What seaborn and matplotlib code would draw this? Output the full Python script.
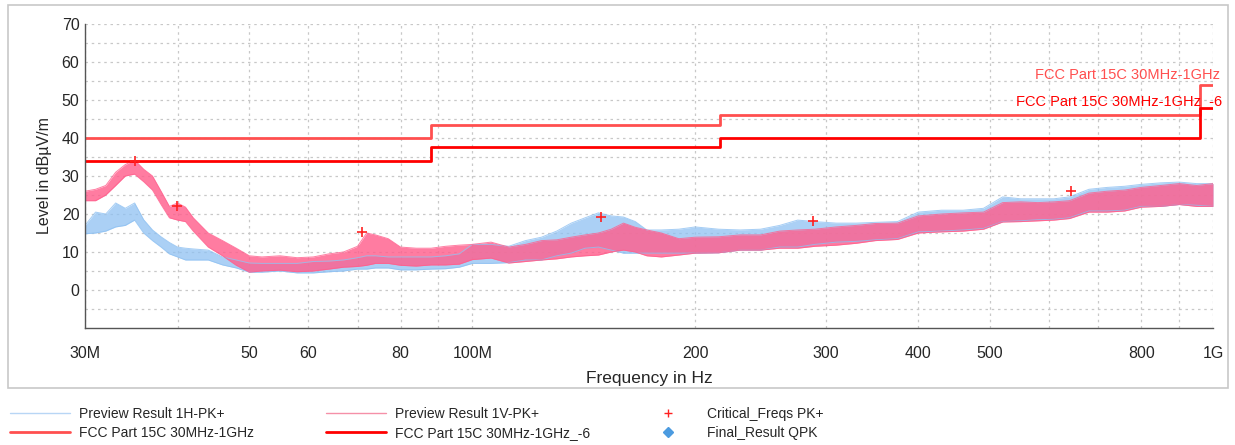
import numpy as np
import pandas as pd
import matplotlib
matplotlib.use("Agg")
import matplotlib.pyplot as plt
import seaborn as sns
from matplotlib.ticker import FixedLocator, NullFormatter
from matplotlib.lines import Line2D
from matplotlib.patches import Rectangle
import matplotlib.transforms as mtransforms

# ---------------- data (frequencies in MHz, levels in dBuV/m) ----------------
freq = [30, 31, 32, 33, 34, 35, 36, 37, 38, 39, 40, 41, 42, 44, 46, 48, 50, 52, 55, 58,
        61, 64, 67, 70, 72, 74, 77, 80, 84, 88, 92, 96, 100, 106, 112, 118, 124, 130, 136,
        142, 148, 154, 160, 166, 172, 180, 190, 200, 215, 230, 245, 260, 275, 290, 310,
        330, 350, 375, 400, 430, 460, 490, 520, 550, 580, 610, 640, 680, 720, 760, 800,
        850, 900, 950, 1000]

v_lo = [23.5, 23.5, 25, 27.5, 30, 30.5, 28.5, 26.3, 22.5, 19, 18.4, 18, 15.5, 11.3, 9, 6.5,
        4.7, 5, 5.2, 4.8, 5, 5.5, 6, 6.2, 6.5, 7, 7, 6.5, 6.3, 6.6, 6.6, 6.8, 8, 8.4, 7.1,
        7.5, 7.9, 8.2, 8.7, 9, 9.2, 10, 10.5, 10, 9, 8.7, 9.2, 9.7, 9.8, 10.5, 10.5, 11, 11,
        11.5, 11.8, 12.3, 13, 13.3, 15, 15.3, 15.5, 16, 17.9, 18, 18.2, 18.4, 18.8, 20.5,
        20.5, 20.8, 21.8, 22, 22.5, 22, 22]
v_hi = [26, 26.5, 27.5, 31, 33, 34.2, 31.8, 30, 26, 22, 22.9, 21.8, 19, 15, 13, 11, 9,
        8.7, 9, 8.5, 8.7, 9.5, 10, 11.5, 15, 14.5, 13.5, 11.3, 11, 11, 11.5, 11.8, 12,
        12.6, 11.3, 12, 13, 13.2, 13.9, 14.5, 15, 16, 17.6, 16.5, 15.8, 15, 13.5, 13.9, 14,
        14.5, 14.5, 15.5, 15.8, 16, 16.6, 17, 17.5, 17.6, 19.5, 20, 20.3, 20.5, 23, 23.2,
        23, 23.2, 23.5, 25.5, 26, 26.3, 27, 27.5, 28, 27.5, 28]

h_lo = [14.8, 15, 15.5, 16.6, 17, 18.4, 15, 13, 11.3, 9.5, 8.7, 7.9, 7.9, 7.9, 6.6, 5.8,
        4.7, 4.7, 5, 4.5, 4.5, 4.8, 5, 5.5, 5.5, 5.8, 5.8, 5.3, 5.3, 5.5, 5.6, 6, 7, 7,
        7.2, 7.9, 7.9, 9, 9.7, 11, 11.3, 10.5, 9.7, 9.7, 9.7, 9.7, 9.7, 9.7, 9.8, 10.5,
        10.5, 11.3, 11.3, 12, 12.6, 12.8, 13.2, 13.5, 15.3, 15.5, 15.8, 16.2, 18, 18.2,
        18.5, 18.6, 19, 20.8, 20.8, 21, 22, 22, 22.5, 22.3, 22]
h_hi = [17, 20.5, 20, 22.9, 21.5, 22.9, 18.5, 15.8, 14, 12.5, 11.3, 11, 10.8, 10.5, 8.7,
        7.9, 7.1, 7, 7, 7, 7.5, 7.6, 7.9, 8.5, 9, 9, 8.7, 8.7, 8.7, 8.7, 9, 9.5, 12, 12,
        11.5, 13, 13.9, 15.5, 17.6, 19, 20.3, 19.5, 19.2, 18, 15.8, 15.8, 16, 16.6, 16,
        15.8, 16, 17, 18.4, 18, 17.6, 17.6, 17.8, 18, 20.5, 21, 21, 21.5, 24.5, 24, 24, 24,
        24.5, 26.5, 27, 27.3, 27.8, 28.2, 28.4, 28, 28]

limit_edges = [30, 88, 216, 960, 1000]
limit_levels = [40, 43.5, 46, 54, 54]
limit6_levels = [34, 37.5, 40, 48, 48]

crit_freq = [35.0, 39.9, 71.0, 149, 288, 643]
crit_level = [34.0, 22.2, 15.2, 19.1, 18.2, 26.0]

x_major = [30, 50, 60, 80, 100, 200, 300, 400, 500, 800, 1000]
x_major_labels = ["30M", "50", "60", "80", "100M", "200", "300", "400", "500", "800", "1G"]
x_minor = [40, 70, 90, 600, 700, 900]
y_labels = [0, 10, 20, 30, 40, 50, 60, 70]

# ---------------- style ----------------
sns.set_style("white")
plt.rcParams["font.family"] = ["Liberation Sans", "DejaVu Sans"]

C_H = "#8fc1f2"
C_V = "#ff5f8d"
C_LIM = "#ff4f4f"
C_LIM6 = "#ff0000"

fig = plt.figure(figsize=(12.35, 4.45), dpi=100)
ax = fig.add_axes([85 / 1235, 1 - 328 / 445, 1128 / 1235, 304 / 445])


def draw_trace(lo, hi, color, fill_alpha):
    # envelope band of the noisy preview trace
    ax.fill_between(freq, lo, hi, color=color, alpha=fill_alpha, lw=0)
    ax.plot(freq, hi, color=color, lw=0.7, alpha=0.8)
    ax.plot(freq, lo, color=color, lw=0.7, alpha=0.8)


draw_trace(h_lo, h_hi, C_H, 0.75)
draw_trace(v_lo, v_hi, C_V, 0.82)

# limit lines
lim_df = pd.DataFrame({"f": limit_edges, "lim": limit_levels, "lim6": limit6_levels})
ax.step(lim_df["f"], lim_df["lim"], where="post", color=C_LIM, lw=2)
ax.step(lim_df["f"], lim_df["lim6"], where="post", color=C_LIM6, lw=2)

# critical freqs
crit_df = pd.DataFrame({"f": crit_freq, "lvl": crit_level})
sns.scatterplot(data=crit_df, x="f", y="lvl", marker="+", color="#ff2020", s=45,
                linewidth=1.2, ax=ax, zorder=5, legend=False)

ax.set_xscale("log")
ax.set_xlim(30, 1000)
ax.set_ylim(-10, 70)

ax.xaxis.set_major_locator(FixedLocator(x_major))
ax.xaxis.set_minor_locator(FixedLocator(x_minor))
ax.set_xticklabels(x_major_labels)
ax.xaxis.set_minor_formatter(NullFormatter())
ax.yaxis.set_major_locator(FixedLocator(y_labels))
ax.yaxis.set_minor_locator(FixedLocator([-5, 5, 15, 25, 35, 45, 55, 65]))

ax.tick_params(axis="x", which="both", direction="out", length=5, width=1,
               color="#555555", labelsize=11.5, pad=8)
ax.tick_params(axis="y", which="both", direction="inout", length=8, width=1,
               color="#555555", labelsize=11.5, pad=0)

ax.grid(True, which="both", axis="both", color="#c8c8c8", linestyle=(0, (2, 3)), lw=0.9)
ax.set_axisbelow(True)
for s in ["top", "right"]:
    ax.spines[s].set_visible(False)
for s in ["left", "bottom"]:
    ax.spines[s].set_color("#555555")
    ax.spines[s].set_linewidth(1)

ax.set_xlabel("Frequency in Hz", fontsize=12.5, labelpad=7)
ax.set_ylabel("Level in dBµV/m", fontsize=11.5, labelpad=7)

# limit labels
trans = mtransforms.blended_transform_factory(ax.transAxes, ax.transData)
ax.text(1.006, 56.6, "FCC Part 15C 30MHz-1GHz", color=C_LIM, fontsize=10.5,
        ha="right", va="center", transform=trans, clip_on=False)
ax.text(1.008, 49.7, "FCC Part 15C 30MHz-1GHz_-6", color=C_LIM6, fontsize=10.5,
        ha="right", va="center", transform=trans, clip_on=False)

# outer frame
fig.patches.append(Rectangle((8 / 1235, 1 - 388 / 445), 1220 / 1235, 383 / 445,
                             transform=fig.transFigure, fill=False,
                             edgecolor="#c8c8c8", lw=1.2))


# legends (three columns)
def add_leg(handles, labels, x):
    return fig.legend(handles, labels, loc="upper left", bbox_to_anchor=(x, 1 - 407 / 445),
                      frameon=False, fontsize=10, handlelength=4.3, handletextpad=0.7,
                      labelspacing=0.35, borderpad=0, borderaxespad=0)


h1 = Line2D([], [], color="#b8d6f5", lw=1)
h2 = Line2D([], [], color=C_LIM, lw=2)
add_leg([h1, h2], ["Preview Result 1H-PK+", "FCC Part 15C 30MHz-1GHz"], 10 / 1235)
h3 = Line2D([], [], color="#f590a8", lw=1)
h4 = Line2D([], [], color=C_LIM6, lw=2)
add_leg([h3, h4], ["Preview Result 1V-PK+", "FCC Part 15C 30MHz-1GHz_-6"], 326 / 1235)
h5 = Line2D([], [], color="#ff2020", lw=0, marker="+", markersize=6)
h6 = Line2D([], [], color="#4c9be0", lw=0, marker="D", markersize=5)
add_leg([h5, h6], ["Critical_Freqs PK+", "Final_Result QPK"], 638 / 1235)

fig.savefig("out.png", dpi=100)
